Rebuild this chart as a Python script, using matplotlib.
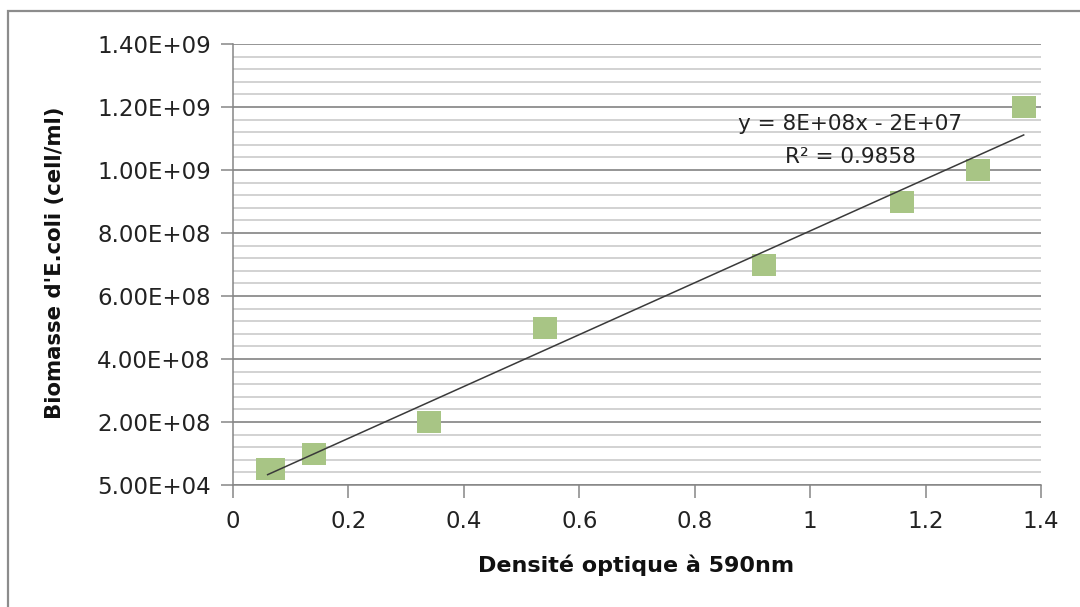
import matplotlib.pyplot as plt
import matplotlib.patches as patches
import numpy as np
from matplotlib.ticker import FixedLocator, FuncFormatter

# données
densite = [0.06, 0.07, 0.14, 0.34, 0.54, 0.92, 1.16, 1.29, 1.37]
biomasse = [5e7, 5e7, 1e8, 2e8, 5e8, 7e8, 9e8, 1e9, 1.2e9]
y_ticks = [5e4 + k * 2e8 for k in range(8)]
x_ticks = [0, 0.2, 0.4, 0.6, 0.8, 1, 1.2, 1.4]
x_tick_labels = ['0', '0.2', '0.4', '0.6', '0.8', '1', '1.2', '1.4']
eq_line1 = 'y = 8E+08x - 2E+07'
eq_line2 = 'R² = 0.9858'

plt.rcParams['font.family'] = ['DejaVu Sans']

fig = plt.figure(figsize=(10.8, 6.07), dpi=100)
ax = fig.add_axes([233 / 1080, 1 - 485 / 607, (1041 - 233) / 1080, (485 - 44) / 607])

# cadre du graphique
fig.patches.append(patches.Rectangle((8 / 1080, -0.1), 1.2, 1 - 11 / 607 + 0.1,
                                     transform=fig.transFigure, fill=False,
                                     edgecolor='#8c8c8c', linewidth=1.6))

# grille
minor = [5e4 + k * 4e7 for k in range(36)]
for v in minor:
    ax.axhline(v, color='#c6c6c6', linewidth=1.1, zorder=0)
for v in y_ticks:
    ax.axhline(v, color='#868686', linewidth=1.1, zorder=0)

# points (carrés un peu plus larges que hauts)
carre = [(-1.1, -1), (1.1, -1), (1.1, 1), (-1.1, 1), (-1.1, -1)]
ax.plot(densite, biomasse, linestyle='none', marker=carre, markersize=17.5,
        color='#a8c585', markeredgecolor='#a8c585', markeredgewidth=0, zorder=3)

# courbe de tendance
a, b = np.polyfit(densite, biomasse, 1)
xs = np.array([min(densite), max(densite)])
ax.plot(xs, a * xs + b, color='#3a3a3a', linewidth=1.1, zorder=4)

ax.text(1.069, 1.146e9, eq_line1, ha='center', va='center', fontsize=15.5,
        color='#222222', zorder=5)
ax.text(1.069, 1.041e9, eq_line2, ha='center', va='center', fontsize=15.5,
        color='#222222', zorder=5)

ax.set_xlim(0, 1.4)
ax.set_ylim(5e4, 1.4e9 + 5e4)
ax.xaxis.set_major_locator(FixedLocator(x_ticks))
ax.set_xticklabels(x_tick_labels)
ax.yaxis.set_major_locator(FixedLocator(y_ticks))
ax.yaxis.set_major_formatter(FuncFormatter(lambda v, p: '%.2E' % v))

for s in ['top', 'right']:
    ax.spines[s].set_visible(False)
for s in ['left', 'bottom']:
    ax.spines[s].set_color('#868686')
    ax.spines[s].set_linewidth(1.1)
ax.tick_params(axis='both', direction='out', length=9, width=1.1, color='#868686',
               labelsize=16.5, labelcolor='#222222')
ax.tick_params(axis='x', pad=9)
ax.tick_params(axis='y', pad=7)

fig.text(636 / 1080, 1 - 565 / 607, 'Densité optique à 590nm', ha='center', va='center',
         fontsize=16, fontweight='bold', color='#111111')
fig.text(55 / 1080, 1 - 263 / 607, "Biomasse d'E.coli (cell/ml)", ha='center', va='center',
         rotation=90, fontsize=15.3, fontweight='bold', color='#111111')

fig.savefig('out.png', dpi=100)
